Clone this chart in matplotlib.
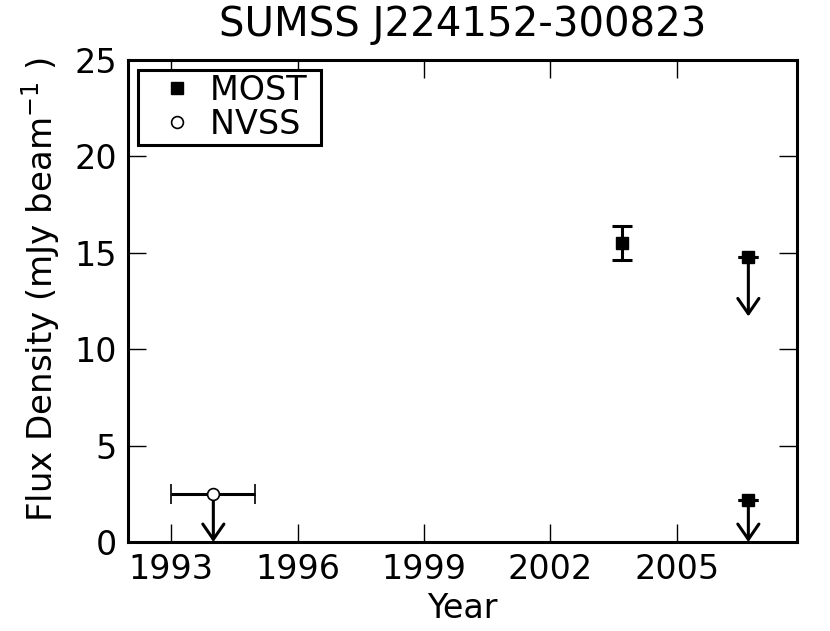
import matplotlib
matplotlib.use('Agg')
import matplotlib.pyplot as plt
from matplotlib.lines import Line2D

# MOST measurements (year, flux in mJy/beam, error, upper limit?)
most_year = [2003.7, 2006.7, 2006.7]
most_flux = [15.5, 14.8, 2.2]
most_err = [0.9, 0.0, 0.0]
most_uplim = [False, True, True]

# NVSS measurement
nvss_year = [1994.0]
nvss_flux = [2.5]
nvss_xerr = [1.0]
nvss_uplim = [True]

arrow_len = 3.1

fig = plt.figure(figsize=(8.3, 6.31), dpi=100)
ax = fig.add_axes([0.154, 0.141, 0.806, 0.764])

# MOST points
ax.errorbar(most_year, most_flux, yerr=most_err, fmt='s', color='black',
            markersize=8.5, capsize=7.2, elinewidth=2.2, capthick=2.2)

# NVSS point
ax.errorbar(nvss_year, nvss_flux, xerr=nvss_xerr, fmt='o', color='black',
            markerfacecolor='white', markersize=8.5, markeredgewidth=1.2,
            capsize=7.2, elinewidth=2.2, capthick=2.2, zorder=3)

# upper limit arrows
for x, y, lim in zip(most_year + nvss_year, most_flux + nvss_flux,
                     most_uplim + nvss_uplim):
    if lim:
        ax.annotate('', xy=(x, max(y - arrow_len, 0)), xytext=(x, y),
                    arrowprops=dict(arrowstyle='->,head_length=0.55,head_width=0.38',
                                    lw=2.2, color='black', shrinkA=0, shrinkB=0,
                                    mutation_scale=20),
                    zorder=2)

ax.set_xlim(1991.97, 2007.85)
ax.set_ylim(0, 25)
ax.set_xticks([1993, 1996, 1999, 2002, 2005])
ax.set_yticks([0, 5, 10, 15, 20, 25])
ax.tick_params(direction='in', length=13, width=1, top=True, right=True,
               labelsize=24, pad=8)
for s in ax.spines.values():
    s.set_linewidth(2.2)

ax.set_xlabel('Year', fontsize=24, labelpad=4)
ax.set_ylabel('Flux Density (mJy beam$^{-1}$ )', fontsize=24.5, labelpad=9)
ax.yaxis.label.set_y(0.523)
ax.set_title('SUMSS J224152-300823', fontsize=29, pad=17)

handles = [Line2D([], [], ls='none', marker='s', color='black', markersize=8.5),
           Line2D([], [], ls='none', marker='o', color='black',
                  markerfacecolor='white', markersize=8.5, markeredgewidth=1.2)]
leg = ax.legend(handles, ['MOST ', 'NVSS '], loc='upper left', numpoints=1,
                fontsize=24, fancybox=False, framealpha=1, edgecolor='black',
                borderaxespad=0.3, handletextpad=-0.05, borderpad=0.12,
                handlelength=2.1, labelspacing=0.02)
leg.get_frame().set_linewidth(2.2)

fig.savefig('out.png', dpi=100)
